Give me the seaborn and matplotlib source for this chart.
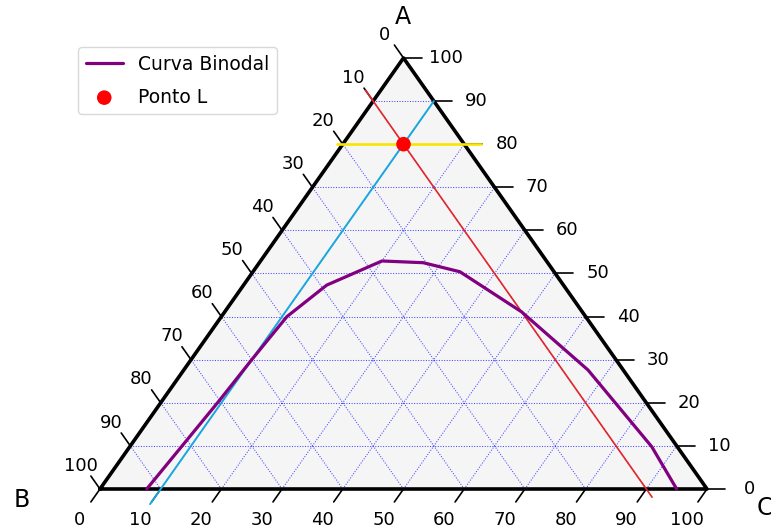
import numpy as np
import matplotlib
matplotlib.use("Agg")
import matplotlib.pyplot as plt
import seaborn as sns

# Binodal curve, ternary composition in % (A top, B left, C right)
binodal_A = [0.0, 20.5, 30.0, 40.0, 47.3, 52.9, 52.5, 50.4, 41.1, 27.6, 9.8, 0.0]
binodal_C = [7.7, 9.4, 10.0, 10.8, 13.7, 20.0, 27.0, 34.1, 48.9, 66.6, 86.0, 95.0]

# Point L
point_A = [80.0]
point_C = [10.0]

# Construction lines through L (endpoints as A, C compositions)
line_constB_A = [92.5, -1.9]   # B = 10
line_constB_C = [-2.5, 91.9]
line_constC_A = [90.0, -3.5]   # C = 10
line_constC_C = [10.0, 10.0]
line_constA_A = [80.0, 80.0]   # A = 80
line_constA_C = [-1.0, 22.7]

tick_values = list(range(0, 101, 10))
corner_labels = ["A", "B", "C"]

SQ = np.sqrt(3) / 2


def proj(a, c):
    a = np.asarray(a, dtype=float)
    c = np.asarray(c, dtype=float)
    return c + a / 2.0, a * SQ


sns.set_style("white")
plt.rcParams["text.color"] = "black"

fig = plt.figure(figsize=(7.71, 5.32), dpi=100)
ax = fig.add_axes([0, 0, 1, 1])
ax.set_xlim(-16.47, 110.54)
ax.set_ylim(-8.64, 98.25)
ax.axis("off")

# triangle background
tx, ty = proj([0, 0, 100], [0, 100, 0])
ax.fill(tx, ty, color="#f5f5f5", zorder=0)

# gridlines
gkw = dict(color="blue", lw=0.75, ls=(0, (1, 1.5)), alpha=0.7, zorder=1)
for v in range(10, 100, 10):
    # constant A
    x, y = proj([v, v], [0, 100 - v])
    ax.plot(x, y, **gkw)
    # constant C
    x, y = proj([0, 100 - v], [v, v])
    ax.plot(x, y, **gkw)
    # constant B
    x, y = proj([0, 100 - v], [100 - v, 0])
    ax.plot(x, y, **gkw)

# boundary
bx, by = proj([0, 0, 100, 0], [0, 100, 0, 0])
ax.plot(bx, by, color="black", lw=2.6, zorder=2, solid_capstyle="round")

# ticks and tick labels
tkw = dict(color="black", lw=1.2, zorder=2)
for v in tick_values:
    # bottom axis (C)
    x, y = proj(0, v)
    ax.plot([x, x - 1.5], [y, y - 2.6], **tkw)
    ax.text(x - 3.3, y - 6.2, str(v), ha="center", va="center", fontsize=13)
    # left axis (B)
    x, y = proj(v, 0)
    ax.plot([x, x - 1.5], [y, y + 2.6], **tkw)
    ax.text(x - 3.2, y + 4.7, str(100 - v), ha="center", va="center", fontsize=13)
    # right axis (A)
    x, y = proj(v, 100 - v)
    ax.plot([x, x + 3.0], [y, y], **tkw)
    ax.text(x + 7.0, y, str(v), ha="center", va="center", fontsize=13)

# corner labels
ax.text(49.9, 94.8, corner_labels[0], ha="center", va="center", fontsize=17)
ax.text(-12.85, -2.2, corner_labels[1], ha="center", va="center", fontsize=17)
ax.text(109.6, -3.8, corner_labels[2], ha="center", va="center", fontsize=17)

# construction lines
x, y = proj(line_constB_A, line_constB_C)
ax.plot(x, y, color="#e3262b", lw=1.2, zorder=3)
x, y = proj(line_constC_A, line_constC_C)
ax.plot(x, y, color="#1aa7df", lw=1.4, zorder=3)
x, y = proj(line_constA_A, line_constA_C)
ax.plot(x, y, color="#f7e600", lw=1.9, zorder=3)

# binodal curve
bxs, bys = proj(binodal_A, binodal_C)
sns.lineplot(x=bxs, y=bys, sort=False, estimator=None, color="purple", lw=2.3,
             label="Curva Binodal", ax=ax, zorder=4)

# point L
px, py = proj(point_A, point_C)
sns.scatterplot(x=px, y=py, color="red", s=110, edgecolor="none",
                label="Ponto L", ax=ax, zorder=5)

ax.set_xlim(-16.47, 110.54)
ax.set_ylim(-8.64, 98.25)
leg = ax.legend(loc="upper left", bbox_to_anchor=(78 / 771, 1 - 47 / 532),
                bbox_transform=fig.transFigure, borderaxespad=0, fontsize=13.5,
                labelspacing=0.75, frameon=True)
leg.get_frame().set_edgecolor("#d0d0d0")

fig.savefig("out.png", dpi=100)
